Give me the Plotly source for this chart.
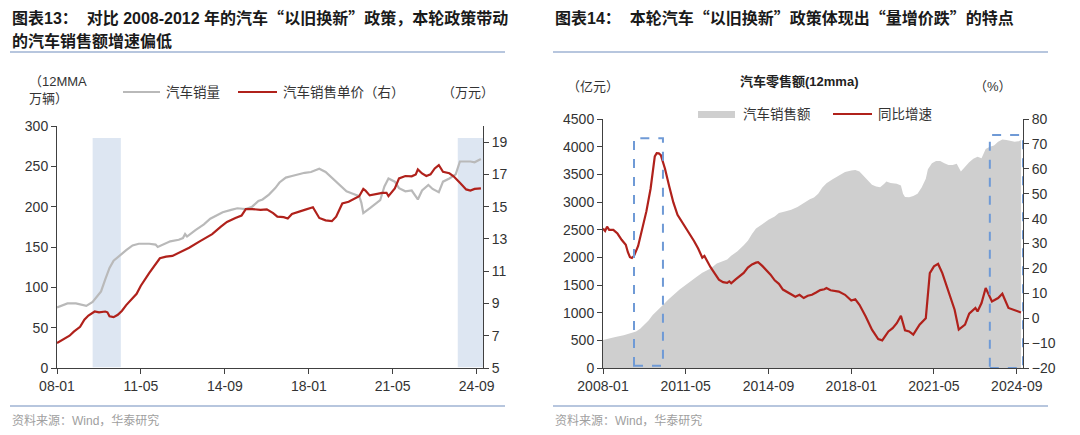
import pandas as pd
import plotly.graph_objects as go

# ---- data (month offsets counted from 2008-01) ----
vol_months = [0, 3, 5, 9, 12, 14, 17, 19, 21, 23, 25, 27, 30, 33, 36, 39, 44, 47, 48, 50,
              54, 58, 60, 61, 62, 66, 70, 73, 76, 79, 83, 86, 90, 93, 96, 98, 101, 104,
              106, 109, 112, 115, 118, 121, 123, 125, 128, 131, 134, 138, 141, 144, 145,
              146, 149, 152, 154, 156, 158, 161, 163, 166, 169, 172, 174, 177, 179, 182,
              184, 187, 190, 192, 194, 197, 199, 202]
vol_values = [75, 78, 80, 80, 78, 77, 82, 88, 95, 110, 124, 133, 140, 146, 152, 154, 154, 153,
              150, 152, 157, 159, 161, 166, 163, 171, 178, 185, 189, 193, 196, 198, 197, 200,
              207, 209, 215, 223, 230, 236, 238, 240, 242, 243, 245, 247, 243, 236, 229,
              219, 216, 213, 205, 192, 198, 204, 208, 225, 235, 231, 223, 219, 220, 209,
              220, 227, 222, 218, 231, 235, 240, 256, 256, 256, 255, 259]

price_months = [0, 3, 6, 8, 11, 13, 15, 18, 20, 23, 24, 25, 27, 29, 31, 33, 36, 38, 40, 44,
                49, 52, 55, 60, 63, 68, 74, 78, 81, 85, 88, 90, 93, 97, 100, 103, 105, 108,
                110, 112, 115, 118, 122, 125, 128, 131, 133, 136, 139, 142, 144, 146, 147,
                149, 152, 155, 157, 158, 161, 163, 166, 169, 171, 172, 174, 176, 178, 180,
                182, 184, 187, 189, 192, 195, 197, 199, 202]
price_values = [6.55, 6.75, 7.0, 7.25, 7.55, 8.0, 8.25, 8.5, 8.45, 8.5, 8.45, 8.2, 8.15, 8.3,
                8.55, 8.9, 9.3, 9.6, 10.1, 10.9, 11.8, 11.9, 11.95, 12.25, 12.45, 12.85,
                13.3, 13.75, 14.05, 14.3, 14.45, 14.85, 14.85, 14.8, 14.83, 14.6, 14.38,
                14.35, 14.27, 14.55, 14.7, 14.8, 14.96, 14.3, 14.15, 14.1, 14.38, 15.2,
                15.3, 15.5, 15.65, 16.1, 16.0, 15.7, 15.78, 15.85, 15.86, 15.65, 16.13,
                16.75, 16.9, 16.88, 17.0, 17.31, 17.06, 16.9, 17.0, 17.37, 17.58, 17.16,
                17.07, 16.88, 16.48, 16.07, 16.0, 16.1, 16.13]

amount_months = [0, 3, 6, 10, 13, 16, 18, 20, 22, 24, 27, 29, 32, 34, 37, 40, 42, 45, 48, 52,
                 55, 58, 60, 62, 65, 68, 70, 72, 74, 77, 80, 83, 85, 88, 91, 94, 97, 100,
                 102, 104, 106, 108, 111, 114, 117, 120, 122, 124, 126, 128, 130, 132, 134,
                 136, 137, 139, 142, 144, 145, 146, 148, 150, 152, 154, 156, 157, 159, 161,
                 163, 165, 167, 169, 171, 173, 175, 177, 179, 181, 183, 185, 187, 189, 191,
                 193, 195, 197, 199, 201, 202]
amount_values = [505, 535, 560, 590, 620, 660, 710, 780, 860, 960, 1060, 1140, 1250, 1320,
                 1420, 1500, 1560, 1640, 1720, 1800, 1890, 1930, 1960, 2030, 2110, 2220,
                 2300, 2420, 2520, 2600, 2680, 2740, 2800, 2830, 2860, 2910, 2980, 3050,
                 3080, 3150, 3260, 3340, 3410, 3470, 3540, 3570, 3580, 3550, 3470, 3400,
                 3310, 3280, 3265, 3330, 3370, 3345, 3330, 3300, 3150, 3090, 3085, 3110,
                 3150, 3260, 3420, 3590, 3700, 3740, 3740, 3700, 3670, 3670, 3690, 3550,
                 3630, 3720, 3780, 3820, 3790, 3960, 4000, 4020, 4090, 4130, 4120, 4110,
                 4090, 4100, 4120]

yoy_months = [0, 1, 2, 3, 5, 7, 9, 11, 12, 13, 14, 15, 17, 19, 21, 23, 24, 25, 26, 27, 28,
              30, 32, 34, 36, 38, 40, 42, 44, 46, 48, 49, 50, 52, 54, 56, 58, 60, 61, 62,
              64, 66, 68, 70, 72, 74, 75, 77, 79, 81, 83, 85, 87, 89, 91, 93, 95, 97, 99,
              101, 103, 105, 107, 108, 110, 112, 114, 117, 120, 122, 124, 127, 130, 133,
              135, 138, 140, 142, 144, 146, 148, 150, 153, 156, 158, 160, 162, 164, 168,
              170, 172, 175, 177, 180, 181, 183, 185, 188, 191, 193, 196, 199, 202]
yoy_values = [36, 35, 36.8, 35.5, 35.5, 34, 31.5, 29.5, 26.5, 24.5, 24.2, 25, 29, 36, 43, 52,
              58, 65, 66.3, 66.2, 65.5, 60, 53, 46.5, 41.5, 39, 36.5, 34, 31, 28, 24.3, 25,
              23.5, 20.5, 18, 15.5, 14.5, 14.2, 14.8, 14, 15.5, 16.8, 18.2, 20.3, 21.6,
              22.3, 22.5, 21, 19.4, 17.5, 15.2, 13.8, 11.5, 10.5, 9.6, 8.6, 9.4, 8.1, 9.0,
              9.4, 10.3, 11.3, 11.6, 12.1, 11.2, 10.9, 10.7, 9.4, 7.1, 7.6, 5.4, 0.7, -4.6,
              -8.4, -8.9, -5.3, -4.0, -2.0, 1.0, -4.9, -5.3, -6.6, -2.6, 0.0, 18.1, 20.8,
              21.8, 18.1, 8.5, 3.4, -4.6, -2.6, 1.8, 4.1, 2.7, 6.1, 12.1, 6.7, 8.1, 9.8,
              4.1, 3.2, 2.3]

tick_dates = ["2008-01-01", "2011-05-01", "2014-09-01", "2018-01-01", "2021-05-01", "2024-09-01"]
left_tick_text = ["08-01", "11-05", "14-09", "18-01", "21-05", "24-09"]
right_tick_text = ["2008-01", "2011-05", "2014-09", "2018-01", "2021-05", "2024-09"]

# policy periods: shaded on the left, dashed boxes on the right
left_bands = [("2009-06-01", "2010-07-15"), ("2023-12-01", "2024-12-01")]
right_boxes = [("2009-04-01", "2010-06-01", 40, 4150), ("2023-08-01", "2024-12-01", 0, 4210)]


def to_dates(months):
    start = pd.Timestamp("2008-01-01")
    return [start + pd.DateOffset(months=m) for m in months]


W, H = 1080, 435
FONT = "Liberation Sans, Arial, Noto Sans CJK SC"
CJK = "Noto Sans CJK SC"
RED = "#b0211b"
GREY_LINE = "#b9b9b9"
GREY_FILL = "#cfcfcf"
AXIS = "#404040"


def px(x):
    return x / W


def py(y):
    return 1 - y / H


def cjk_quotes(text):
    # full-width curly quotes, as in the source report
    for q in "“”":
        text = text.replace(q, f'<span style="font-family:{CJK}">{q}</span>')
    return text


fig = go.Figure()

fig.add_trace(go.Scatter(
    x=to_dates(vol_months), y=vol_values, mode="lines", name="汽车销量",
    line=dict(color=GREY_LINE, width=2.2), xaxis="x", yaxis="y",
))
fig.add_trace(go.Scatter(
    x=to_dates(price_months), y=price_values, mode="lines", name="汽车销售单价（右）",
    line=dict(color=RED, width=2.2), xaxis="x", yaxis="y2",
))
fig.add_trace(go.Scatter(
    x=to_dates(amount_months), y=amount_values, mode="lines", name="汽车销售额",
    fill="tozeroy", fillcolor=GREY_FILL, line=dict(color=GREY_FILL, width=0),
    xaxis="x2", yaxis="y3",
))
fig.add_trace(go.Scatter(
    x=to_dates(yoy_months), y=yoy_values, mode="lines", name="同比增速",
    line=dict(color=RED, width=2.2), xaxis="x2", yaxis="y4",
))

axis_common = dict(
    showline=True, linecolor=AXIS, linewidth=1, ticks="outside", ticklen=5,
    tickcolor=AXIS, showgrid=False, zeroline=False, automargin=False,
    tickfont=dict(size=14, color="#333333", family=FONT),
)

fig.update_layout(
    width=W, height=H,
    margin=dict(l=0, r=0, t=0, b=0, autoexpand=False),
    paper_bgcolor="white", plot_bgcolor="rgba(0,0,0,0)",
    font=dict(family=FONT, color="#333333"),
    showlegend=False,
    xaxis=dict(domain=[px(57), px(483)], anchor="y", type="date",
               range=["2008-01-01", "2024-12-01"], tickvals=tick_dates,
               ticktext=left_tick_text, **axis_common),
    yaxis=dict(domain=[py(368), py(126)], anchor="x", range=[0, 300], dtick=50,
               **axis_common),
    yaxis2=dict(overlaying="y", side="right", anchor="x", range=[5, 20],
                tickvals=[5, 7, 9, 11, 13, 15, 17, 19], **axis_common),
    xaxis2=dict(domain=[px(603), px(1023)], anchor="y3", type="date",
                range=["2008-01-01", "2024-12-01"], tickvals=tick_dates,
                ticktext=right_tick_text, **axis_common),
    yaxis3=dict(domain=[py(368), py(119)], anchor="x2", range=[0, 4500], dtick=500,
                **axis_common),
    yaxis4=dict(overlaying="y3", side="right", anchor="x2", range=[-20, 80], dtick=10,
                **axis_common),
)

shapes = []
for x0, x1 in left_bands:
    shapes.append(dict(type="rect", xref="x", yref="y", x0=x0, x1=x1, y0=1, y1=285,
                       fillcolor="#dde6f2", line=dict(width=0), layer="below"))
for x0, x1, y0, y1 in right_boxes:
    shapes.append(dict(type="rect", xref="x2", yref="y3", x0=x0, x1=x1, y0=y0, y1=y1,
                       line=dict(color="#6f9ad6", width=2, dash="dash"), layer="above"))
for x0, x1 in [(10, 505), (553, 1048)]:
    for yy in (52, 406):
        shapes.append(dict(type="line", xref="paper", yref="paper", x0=px(x0), x1=px(x1),
                           y0=py(yy), y1=py(yy), line=dict(color="#9fb3d3", width=1.3)))

# legend keys drawn by hand so they sit where the report puts them
shapes += [
    dict(type="line", xref="paper", yref="paper", x0=px(123), x1=px(160), y0=py(92), y1=py(92),
         line=dict(color=GREY_LINE, width=2.2)),
    dict(type="line", xref="paper", yref="paper", x0=px(238), x1=px(277), y0=py(92), y1=py(92),
         line=dict(color=RED, width=2.2)),
    dict(type="rect", xref="paper", yref="paper", x0=px(698), x1=px(735), y0=py(118), y1=py(111),
         fillcolor=GREY_FILL, line=dict(width=0)),
    dict(type="line", xref="paper", yref="paper", x0=px(833), x1=px(872), y0=py(114), y1=py(114),
         line=dict(color=RED, width=2.2)),
]
fig.update_layout(shapes=shapes)

notes = [
    (10, 17, "<b>图表13：  对比 2008-2012 年的汽车“以旧换新”政策，本轮政策带动</b>", 16, "#1a1a1a", "left"),
    (10, 41, "<b>的汽车销售额增速偏低</b>", 16, "#1a1a1a", "left"),
    (553, 17, "<b>图表14：  本轮汽车“以旧换新”政策体现出“量增价跌”的特点</b>", 16, "#1a1a1a", "left"),
    (27, 90, "（12MMA<br>万辆）", 13, "#333333", "left"),
    (164, 92, "汽车销量", 13.5, "#333333", "left"),
    (281, 92, "汽车销售单价（右）", 13.5, "#333333", "left"),
    (440, 92, "（万元）", 13, "#333333", "left"),
    (565, 86, "（亿元）", 13, "#333333", "left"),
    (799, 82, "<b>汽车零售额(12mma)</b>", 13, "#222222", "center"),
    (972, 86, "（%）", 13, "#333333", "left"),
    (741, 114, "汽车销售额", 13.5, "#333333", "left"),
    (876, 114, "同比增速", 13.5, "#333333", "left"),
    (10, 420, "资料来源：Wind，华泰研究", 12, "#a0a0a0", "left"),
    (553, 420, "资料来源：Wind，华泰研究", 12, "#a0a0a0", "left"),
]
for x, y, text, size, color, anchor in notes:
    fig.add_annotation(x=px(x), y=py(y), xref="paper", yref="paper", text=cjk_quotes(text),
                       showarrow=False, xanchor=anchor, yanchor="middle", align="left",
                       font=dict(size=size, color=color, family=FONT))

fig.write_html("out.html", config={"displayModeBar": False},
               post_script="document.body.style.margin = '0';")
